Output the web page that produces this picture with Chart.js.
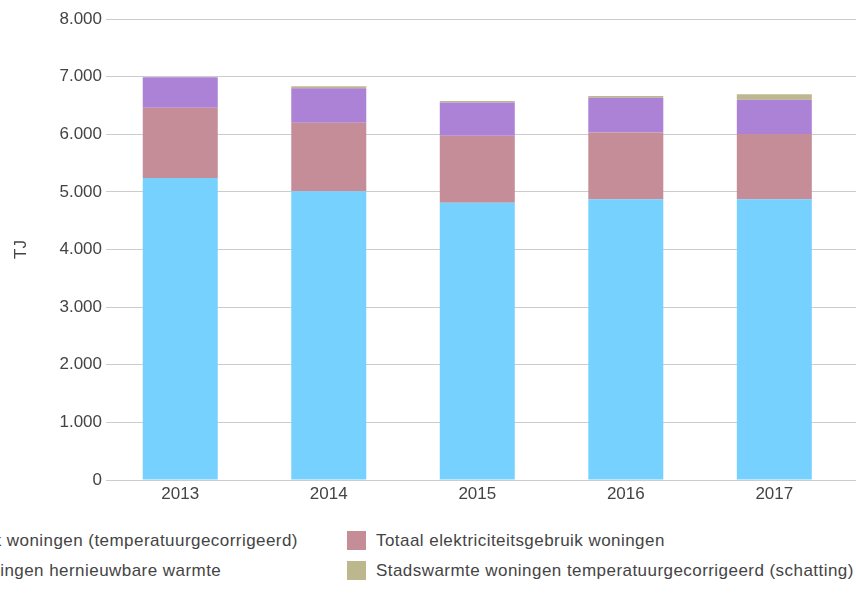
<!DOCTYPE html>
<html>
<head>
<meta charset="utf-8">
<script src="https://cdn.jsdelivr.net/npm/chart.js@4.4.1/dist/chart.umd.min.js"></script>
<style>
    html, body { margin: 0; padding: 0; background: #fff; }
    body { width: 856px; height: 610px; overflow: hidden; position: relative; font-family: "Liberation Sans", Arial, sans-serif; }
    #wrap { position: absolute; left: 0; top: 0; width: 856px; height: 510px; }
    .legend-col { position: absolute; top: 531px; width: max-content; }
    .legend-item { display: flex; align-items: center; height: 19px; margin-bottom: 11px; white-space: nowrap; }
    .legend-box { width: 19px; height: 19px; margin-right: 10px; flex: none; }
    .legend-text { font-size: 17px; color: #444; letter-spacing: 0.45px; }
</style>
</head>
<body>
<div id="wrap"><canvas id="energyChart"></canvas></div>
<div class="legend-col" id="legend-left" style="right: 558px;"></div>
<div class="legend-col" id="legend-right" style="left: 347px;"></div>
<script>
// Years on the x axis
var years = [2013, 2014, 2015, 2016, 2017];

// Series values in TJ
var aardgas = [5240, 5010, 4810, 4870, 4870];
var elektriciteit = [1220, 1190, 1165, 1160, 1135];
var hernieuwbaar = [530, 600, 575, 605, 595];
var stadswarmte = [0, 35, 25, 30, 95];

var seriesLabels = [
    'Totaal aardgasgebruik woningen (temperatuurgecorrigeerd)',
    'Totaal elektriciteitsgebruik woningen',
    'Totaal opwekking woningen hernieuwbare warmte',
    'Stadswarmte woningen temperatuurgecorrigeerd (schatting)'
];

// Colour palette
var colorPalette = [
    '#77d1ff',  // light blue
    '#c48d98',  // mauve
    '#ab82d6',  // purple
    '#bdb78d'   // olive
];

var yTicks = [0, 1000, 2000, 3000, 4000, 5000, 6000, 7000, 8000];

/**
 * Formats a number with a dot as thousands separator.
 */
function formatNL(value) {
    return String(value).replace(/\B(?=(\d{3})+(?!\d))/g, '.');
}

var seriesData = [aardgas, elektriciteit, hernieuwbaar, stadswarmte];
var datasets = seriesData.map(function(values, i) {
    return {
        label: seriesLabels[i],
        data: values,
        backgroundColor: colorPalette[i],
        borderWidth: 0,
        barPercentage: 0.505,
        categoryPercentage: 1
    };
});

var textColor = '#444';
var fontFamily = '"Liberation Sans", Arial, sans-serif';

var chart = new Chart(document.getElementById('energyChart'), {
    type: 'bar',
    data: {
        labels: years,
        datasets: datasets
    },
    options: {
        responsive: true,
        maintainAspectRatio: false,
        animation: false,
        layout: { padding: { top: 19, right: 0, bottom: 0, left: 0 } },
        plugins: {
            legend: { display: false },
            tooltip: { enabled: false }
        },
        scales: {
            x: {
                type: 'linear',
                stacked: true,
                offset: false,
                min: years[0] - 0.5,
                max: years[years.length - 1] + 0.55,
                grid: { display: false, offset: false },
                border: { display: false },
                ticks: {
                    stepSize: 1,
                    includeBounds: false,
                    padding: -4,
                    color: textColor,
                    font: { family: fontFamily, size: 17 },
                    maxRotation: 0,
                    callback: function(value) { return String(value); }
                },
                afterFit: function(scale) { scale.height = 30; }
            },
            y: {
                stacked: true,
                min: yTicks[0],
                max: yTicks[yTicks.length - 1],
                grid: { color: '#cccccc', drawTicks: false, lineWidth: 1 },
                border: { display: false },
                ticks: {
                    stepSize: 1000,
                    padding: 4,
                    color: textColor,
                    font: { family: fontFamily, size: 17 },
                    callback: function(value) { return formatNL(value); }
                },
                title: {
                    display: true,
                    text: 'TJ',
                    color: textColor,
                    font: { family: fontFamily, size: 17 },
                    padding: { top: 11, bottom: 0 }
                },
                afterFit: function(scale) { scale.width = 106; }
            }
        }
    }
});

// Build the two-column legend from the chart's datasets
var legendLeft = document.getElementById('legend-left');
var legendRight = document.getElementById('legend-right');
chart.data.datasets.forEach(function(ds, i) {
    var item = document.createElement('div');
    item.className = 'legend-item';
    var box = document.createElement('span');
    box.className = 'legend-box';
    box.style.background = ds.backgroundColor;
    var text = document.createElement('span');
    text.className = 'legend-text';
    text.innerText = ds.label;
    item.appendChild(box);
    item.appendChild(text);
    (i % 2 === 0 ? legendLeft : legendRight).appendChild(item);
});
</script>
</body>
</html>
